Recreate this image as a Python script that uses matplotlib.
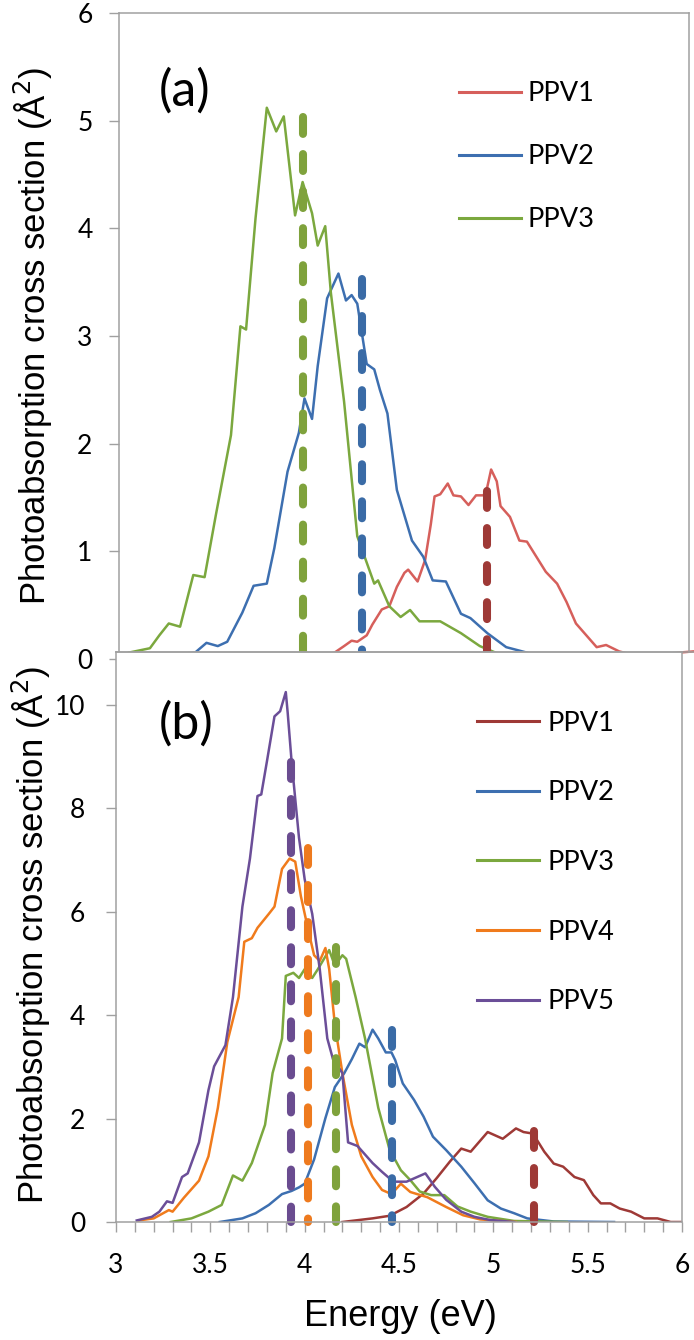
import numpy as np
import matplotlib.pyplot as plt
from matplotlib.lines import Line2D
from matplotlib.ticker import MultipleLocator

# ---- panel (a) data ----
ppv1_a_e = [4.02, 4.11, 4.16, 4.21, 4.25, 4.28, 4.33, 4.36, 4.41, 4.45, 4.49, 4.53, 4.55, 4.60, 4.64,
            4.67, 4.69, 4.72, 4.76, 4.79, 4.83, 4.87, 4.91, 4.95, 4.97, 4.99, 5.02, 5.04, 5.09, 5.14,
            5.18, 5.23, 5.28, 5.34, 5.39, 5.44, 5.50, 5.55, 5.60, 5.67, 5.74, 5.82, 5.90, 5.99, 6.06]
ppv1_a_v = [0.0, 0.02, 0.06, 0.12, 0.17, 0.16, 0.22, 0.32, 0.46, 0.49, 0.67, 0.80, 0.83, 0.72, 0.92,
            1.25, 1.51, 1.53, 1.63, 1.52, 1.51, 1.43, 1.52, 1.52, 1.60, 1.76, 1.65, 1.42, 1.32, 1.10,
            1.09, 0.95, 0.81, 0.70, 0.53, 0.33, 0.21, 0.11, 0.13, 0.07, 0.04, 0.02, 0.04, 0.06, 0.07]

ppv2_a_e = [3.32, 3.42, 3.48, 3.54, 3.59, 3.67, 3.73, 3.80, 3.84, 3.91, 3.97, 4.00, 4.04, 4.07, 4.12,
            4.18, 4.22, 4.25, 4.28, 4.33, 4.37, 4.40, 4.44, 4.49, 4.57, 4.63, 4.68, 4.75, 4.83, 4.88,
            4.97, 5.07, 5.20, 5.37, 5.74]
ppv2_a_v = [0.04, 0.06, 0.15, 0.12, 0.16, 0.43, 0.68, 0.70, 1.03, 1.74, 2.10, 2.42, 2.23, 2.72, 3.35,
            3.58, 3.33, 3.38, 3.30, 2.74, 2.69, 2.50, 2.28, 1.57, 1.10, 0.95, 0.73, 0.72, 0.42, 0.38,
            0.24, 0.11, 0.05, 0.02, 0.01]

ppv3_a_e = [3.07, 3.18, 3.23, 3.28, 3.34, 3.41, 3.47, 3.53, 3.61, 3.66, 3.69, 3.74, 3.80, 3.85, 3.89,
            3.95, 3.99, 4.04, 4.07, 4.11, 4.14, 4.21, 4.28, 4.37, 4.39, 4.45, 4.51, 4.56, 4.61, 4.72,
            4.83, 4.93, 5.04, 5.20, 5.34]
ppv3_a_v = [0.06, 0.10, 0.22, 0.33, 0.30, 0.78, 0.76, 1.34, 2.08, 3.09, 3.06, 4.09, 5.12, 4.90, 5.04,
            4.12, 4.43, 4.14, 3.84, 4.02, 3.40, 2.39, 1.14, 0.70, 0.73, 0.49, 0.39, 0.455, 0.35, 0.35,
            0.24, 0.12, 0.04, 0.02, 0.015]

# dashed markers (energy, height) for panel (a)
mark_a_e = [4.97, 4.305, 3.99]
mark_a_h = [1.56, 3.53, 5.03]

# ---- panel (b) data ----
ppv1_b_e = [4.20, 4.36, 4.45, 4.54, 4.63, 4.70, 4.77, 4.83, 4.88, 4.97, 5.05, 5.12, 5.16, 5.21,
            5.27, 5.32, 5.37, 5.43, 5.48, 5.53, 5.57, 5.62, 5.67, 5.73, 5.80, 5.87, 5.94, 6.0]
ppv1_b_v = [0.0, 0.07, 0.12, 0.29, 0.55, 0.85, 1.17, 1.42, 1.36, 1.74, 1.61, 1.81, 1.74, 1.71,
            1.36, 1.13, 1.07, 0.87, 0.81, 0.52, 0.36, 0.36, 0.26, 0.20, 0.07, 0.07, 0.0, 0.0]

ppv2_b_e = [3.55, 3.67, 3.74, 3.81, 3.88, 3.93, 3.97, 4.00, 4.05, 4.11, 4.16, 4.21, 4.25, 4.29,
            4.32, 4.36, 4.39, 4.43, 4.46, 4.48, 4.52, 4.58, 4.63, 4.68, 4.75, 4.83, 4.90, 4.97,
            5.04, 5.11, 5.18, 5.32, 5.64]
ppv2_b_v = [0.0, 0.07, 0.17, 0.33, 0.54, 0.60, 0.67, 0.74, 1.21, 2.01, 2.61, 2.88, 3.15, 3.45,
            3.38, 3.72, 3.55, 3.28, 3.28, 3.13, 2.68, 2.36, 2.04, 1.65, 1.39, 1.07, 0.75, 0.42,
            0.26, 0.17, 0.07, 0.01, 0.0]

ppv3_b_e = [3.29, 3.40, 3.49, 3.56, 3.62, 3.67, 3.72, 3.79, 3.83, 3.88, 3.90, 3.94, 3.97, 4.00,
            4.04, 4.07, 4.13, 4.16, 4.20, 4.22, 4.27, 4.32, 4.39, 4.45, 4.51, 4.56, 4.61, 4.67,
            4.74, 4.81, 4.88, 4.97, 5.11, 5.39]
ppv3_b_v = [0.0, 0.07, 0.20, 0.33, 0.90, 0.80, 1.14, 1.88, 2.88, 3.55, 4.76, 4.82, 4.72, 4.89,
            4.72, 4.89, 5.26, 4.96, 5.16, 5.09, 4.35, 3.55, 2.21, 1.40, 1.00, 0.81, 0.59, 0.52,
            0.52, 0.30, 0.20, 0.10, 0.02, 0.0]

ppv4_b_e = [3.12, 3.20, 3.28, 3.30, 3.36, 3.44, 3.49, 3.54, 3.59, 3.65, 3.68, 3.72, 3.75, 3.81,
            3.84, 3.88, 3.92, 3.95, 3.98, 4.02, 4.05, 4.08, 4.11, 4.13, 4.16, 4.20, 4.25, 4.30,
            4.36, 4.41, 4.46, 4.51, 4.56, 4.65, 4.75, 4.84, 4.93, 5.12]
ppv4_b_v = [0.03, 0.07, 0.23, 0.20, 0.47, 0.80, 1.27, 2.21, 3.48, 4.35, 5.42, 5.49, 5.69, 5.96,
            6.10, 6.83, 7.03, 6.97, 6.30, 5.63, 5.16, 5.05, 5.30, 4.89, 3.82, 2.88, 1.88, 1.27,
            0.87, 0.62, 0.54, 0.74, 0.58, 0.48, 0.29, 0.13, 0.05, 0.0]

ppv5_b_e = [3.11, 3.19, 3.23, 3.27, 3.30, 3.35, 3.38, 3.44, 3.49, 3.52, 3.58, 3.62, 3.67, 3.71,
            3.75, 3.77, 3.80, 3.84, 3.87, 3.90, 3.91, 3.93, 3.97, 4.00, 4.04, 4.08, 4.12, 4.15,
            4.20, 4.23, 4.28, 4.36, 4.41, 4.47, 4.54, 4.64, 4.69, 4.75, 4.83, 4.90, 4.98, 5.11]
ppv5_b_v = [0.03, 0.10, 0.20, 0.40, 0.37, 0.87, 0.94, 1.54, 2.55, 3.01, 3.42, 4.35, 6.10, 7.03,
            8.24, 8.27, 8.91, 9.78, 9.88, 10.25, 9.85, 8.94, 7.43, 6.63, 5.96, 4.89, 3.55, 3.15,
            2.88, 1.54, 1.47, 1.14, 0.97, 0.78, 0.78, 0.94, 0.68, 0.43, 0.20, 0.10, 0.04, 0.0]

mark_b_e = [5.215, 4.465, 4.168, 4.018, 3.925]
mark_b_h = [1.76, 3.72, 5.32, 7.24, 8.89]

labels_a = ["PPV1", "PPV2", "PPV3"]
labels_b = ["PPV1", "PPV2", "PPV3", "PPV4", "PPV5"]

# colours
red_a, red_dk = "#D65F5B", "#9E3936"
blue, blue_dk = "#3D6FB0", "#3A6BA6"
green, green_dk = "#7BA83E", "#7FA23C"
orange, orange_dk = "#F07B1C", "#EE7A1E"
purple, purple_dk = "#6B4E98", "#6A4C90"
gray = "#A0A0A0"

W, H = 694, 1340
fig = plt.figure(figsize=(W / 100, H / 100), dpi=100)


def px_axes(left, top, right, bottom):
    return fig.add_axes([left / W, 1 - bottom / H, (right - left) / W, (bottom - top) / H])


tick_font = dict(family="Lato", size=19)
leg_font = dict(family="Lato", size=19.5)
lab_font = dict(family="Liberation Sans", size=25)
lw_curve = 1.8
dash_kw = dict(lw=5.8, dashes=(2.1, 2.5), dash_capstyle="round", solid_capstyle="round")

# ---------------- panel (a) ----------------
ax1 = px_axes(119, 13, 689, 659)
ax1.set_xlim(3 + 3 / 188.5, 3 + 573 / 188.5)
ax1.set_ylim(0, 6)
ax1.plot(ppv1_a_e, ppv1_a_v, color=red_a, lw=lw_curve, clip_on=False)
ax1.plot(ppv2_a_e, ppv2_a_v, color=blue, lw=lw_curve)
ax1.plot(ppv3_a_e, ppv3_a_v, color=green, lw=lw_curve)
for e, h, c in zip(mark_a_e, mark_a_h, [red_dk, blue_dk, green_dk]):
    ax1.plot([e, e], [h, 0], color=c, clip_on=False, **dash_kw)

ax1.set_yticks(range(0, 7))
ax1.tick_params(axis="x", length=0, labelbottom=False)
ax1.tick_params(axis="y", direction="out", length=7.5, width=1, color=gray, pad=11.5)
for lab in ax1.get_yticklabels():
    lab.set(**tick_font)
for s in ax1.spines.values():
    s.set_color(gray)
    s.set_linewidth(1.1)
ax1.spines["right"].set_bounds(7 / 107.7, 6)
ax1.spines["bottom"].set_bounds(3 + 3 / 188.5, 6.0)

handles_a = [Line2D([], [], color=c, lw=2.2) for c in [red_a, blue, green]]
ax1.legend(handles_a, labels_a, loc="upper left", bbox_to_anchor=(459 / W, 1 - 81 / H),
           bbox_transform=fig.transFigure, frameon=False, borderpad=0, borderaxespad=0,
           handlelength=2.3, handletextpad=0.24, labelspacing=1.41, prop=leg_font)

# ---------------- panel (b) ----------------
ax2 = px_axes(116, 652, 682, 1222)
ax2.set_xlim(3, 6)
ax2.set_ylim(0, 570 / 51.7)
ax2.plot(ppv1_b_e, ppv1_b_v, color=red_dk, lw=lw_curve)
ax2.plot(ppv2_b_e, ppv2_b_v, color=blue, lw=lw_curve)
ax2.plot(ppv3_b_e, ppv3_b_v, color=green, lw=lw_curve)
ax2.plot(ppv4_b_e, ppv4_b_v, color=orange, lw=lw_curve)
ax2.plot(ppv5_b_e, ppv5_b_v, color=purple, lw=lw_curve)
for e, h, c in zip(mark_b_e, mark_b_h, [red_dk, blue_dk, green_dk, orange_dk, purple_dk]):
    ax2.plot([e, e], [h, 0], color=c, clip_on=False, **dash_kw)

ax2.set_yticks(range(0, 11, 2))
ax2.xaxis.set_minor_locator(MultipleLocator(0.1))
ax2.set_xticks([3, 3.5, 4, 4.5, 5, 5.5, 6])
ax2.set_xticklabels(["3", "3.5", "4", "4.5", "5", "5.5", "6"])
ax2.tick_params(axis="y", direction="out", length=7.2, width=1, color=gray, pad=15)
ax2.tick_params(axis="x", which="both", direction="out", length=7.5, width=1, color=gray, pad=15)
for lab in ax2.get_yticklabels() + ax2.get_xticklabels():
    lab.set(**tick_font)
for s in ax2.spines.values():
    s.set_color(gray)
    s.set_linewidth(1.1)

handles_b = [Line2D([], [], color=c, lw=2.2) for c in [red_dk, blue, green, orange, purple]]
ax2.legend(handles_b, labels_b, loc="upper left", bbox_to_anchor=(476.5 / W, 1 - 710.5 / H),
           bbox_transform=fig.transFigure, frameon=False, borderpad=0, borderaxespad=0,
           handlelength=2.3, handletextpad=0.31, labelspacing=1.65, prop=leg_font)

# frame line between the panels
fig.add_artist(Line2D([116 / W, 1.0], [1 - 652 / H, 1 - 652 / H], color=gray, lw=1.1))

# panel labels and axis titles
fig.text(185 / W, 1 - 91 / H, "(a)", ha="center", va="center", family="Lato", size=36)
fig.text(186 / W, 1 - 724 / H, "(b)", ha="center", va="center", family="Lato", size=36)
fig.text(33 / W, 1 - 336 / H, "Photoabsorption cross section (Å$^2$)", rotation=90,
         ha="center", va="center", **lab_font)
fig.text(31 / W, 1 - 935 / H, "Photoabsorption cross section (Å$^2$)", rotation=90,
         ha="center", va="center", **lab_font)
fig.text(400 / W, 1 - 1317 / H, "Energy (eV)", ha="center", va="center",
         family="Liberation Sans", size=26)

fig.savefig("out.png", dpi=100, facecolor="white")
